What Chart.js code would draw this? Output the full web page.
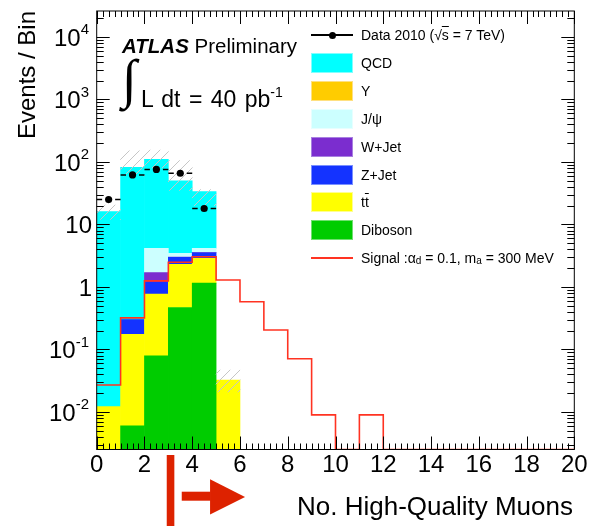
<!DOCTYPE html>
<html>
<head>
<meta charset="UTF-8">
<title>No. High-Quality Muons</title>
<style type="text/css">
  body { margin: 0; background: #fff; }
  #wrap { position: relative; width: 590px; height: 526px; font-family: "Liberation Sans", Arial, Helvetica, sans-serif; color: #000; }
  #c { position: absolute; left: 0; top: 0; }
  .row { position: absolute; left: 311px; height: 20px; display: flex; align-items: center; white-space: nowrap; font-size: 14px; }
  .box { width: 40px; height: 18px; border: 1px solid; margin-right: 8px; }
  .mark { position: relative; width: 42px; height: 20px; margin-right: 8px; }
  .mark .ln { position: absolute; left: 0; right: 0; top: 9px; height: 1.5px; }
  .mark .dot { position: absolute; left: 17.5px; top: 6.5px; width: 7px; height: 7px; border-radius: 50%; background: #000; }
  sub { font-size: 10px; vertical-align: -1px; }
  .ov { text-decoration: overline; }
  #atlas1 { position: absolute; left: 122px; top: 34px; font-size: 20.5px; white-space: nowrap; }
  #integral { position: absolute; left: 122px; top: 52px; font-family: "Liberation Serif", "DejaVu Serif", serif; font-size: 54px; line-height: 54px; }
  #atlas2 { position: absolute; left: 141px; top: 79px; font-size: 23px; line-height: 26px; word-spacing: 2px; white-space: nowrap; }
  #atlas2 sup { font-size: 14px; vertical-align: 10px; }
</style>
<script type="text/javascript" src="https://cdn.jsdelivr.net/npm/chart.js@4.4.1/dist/chart.umd.min.js"></script>
</head>
<body>
<div id="wrap">
  <canvas id="c" width="590" height="526"></canvas>
  <div id="atlas1"><b><i>ATLAS</i></b> Preliminary</div>
  <div id="integral">&#8747;</div>
  <div id="atlas2">L dt = 40 pb<sup>-1</sup></div>
  <div id="legend"></div>
</div>
<script>
// bins of width 1, centres 0.5 .. 5.5
var binCenters = [0.5, 1.5, 2.5, 3.5, 4.5, 5.5];
var diboson = [0, 0.006, 0.079, 0.47, 1.15, 0];
var ttbar   = [0.0122, 0.169, 0.69, 1.83, 1.73, 0.0325];
var zjet    = [0, 0.125, 0.42, 0.68, 0.65, 0];
var wjet    = [0, 0, 0.51, 0.03, 0.03, 0];
var jpsi    = [0, 0, 2.46, 0.45, 0.6, 0];
var upsilon = [0, 0, 0, 0, 0, 0];
var qcd     = [16, 81.7, 105.8, 46.5, 29.3, 0];
var bandLow  = [12, 60, 80, 35, 20, 0.021];
var bandHigh = [20.5, 150, 155, 105, 36, 0.047];

var dataX = [0.5, 1.5, 2.5, 3.5, 4.5];
var dataY = [25, 62, 76, 66, 18];

// signal, one value per bin from 0 to 20
var signal = [0.027, 0.32, 1.25, 2.48, 3.05, 1.29, 0.58, 0.205, 0.071, 0.009, 0, 0.009, 0, 0, 0, 0, 0, 0, 0, 0];

var xTickLabels = ['0', '2', '4', '6', '8', '10', '12', '14', '16', '18', '20'];
var yDecades = [-2, -1, 0, 1, 2, 3, 4];

var Y_MIN = 0.00251, Y_MAX = 26000;
var CUT = 3;

var colors = {
  qcd: '#00ffff', upsilon: '#ffcc00', jpsi: '#ccffff', wjet: '#7b2dcf',
  zjet: '#1433ff', ttbar: '#ffff00', diboson: '#00cc00', signal: '#ff3322'
};

// stacked floating bars, bottom to top
var stack = [
  ['Diboson', diboson, colors.diboson],
  ['ttbar', ttbar, colors.ttbar],
  ['Z+Jet', zjet, colors.zjet],
  ['W+Jet', wjet, colors.wjet],
  ['J/psi', jpsi, colors.jpsi],
  ['Upsilon', upsilon, colors.upsilon],
  ['QCD', qcd, colors.qcd]
];
var cum = binCenters.map(function () { return 0; });
var datasets = [];
stack.forEach(function (s) {
  var pts = [];
  binCenters.forEach(function (cx, i) {
    var v = s[1][i];
    if (v > 0) {
      pts.push({ x: cx, y: [Math.max(cum[i], Y_MIN), cum[i] + v] });
      cum[i] += v;
    }
  });
  datasets.push({ type: 'bar', label: s[0], data: pts, backgroundColor: s[2], borderWidth: 0,
    barPercentage: 1, categoryPercentage: 1, grouped: false, order: 10 });
});

// hatch for uncertainty band
var pc = document.createElement('canvas');
pc.width = 10; pc.height = 10;
var pctx = pc.getContext('2d');
pctx.strokeStyle = '#c6c6c6';
pctx.lineWidth = 1;
pctx.beginPath();
pctx.moveTo(0, 10); pctx.lineTo(10, 0);
pctx.moveTo(-1, 1); pctx.lineTo(1, -1);
pctx.moveTo(9, 11); pctx.lineTo(11, 9);
pctx.stroke();
var hatch = pctx.createPattern(pc, 'repeat');

datasets.push({ type: 'bar', label: 'band',
  data: binCenters.map(function (cx, i) { return { x: cx, y: [bandLow[i], bandHigh[i]] }; }),
  backgroundColor: hatch, borderWidth: 0, barPercentage: 1, categoryPercentage: 1, grouped: false, order: 5 });

var sigPts = signal.map(function (v, i) { return { x: i, y: Math.max(v, Y_MIN) }; });
sigPts.push({ x: signal.length, y: Math.max(signal[signal.length - 1], Y_MIN) });
datasets.push({ type: 'line', label: 'Signal', data: sigPts, stepped: true, borderColor: colors.signal,
  borderWidth: 1.6, pointRadius: 0, fill: false, order: 3 });

datasets.push({ type: 'scatter', label: 'Data 2010',
  data: dataX.map(function (x, i) { return { x: x, y: dataY[i] }; }),
  pointRadius: 3.6, pointBackgroundColor: '#000', pointBorderWidth: 0, order: 1 });

var FONT = '"Liberation Sans", Arial, Helvetica, sans-serif';

var rootAxes = {
  id: 'rootAxes',
  afterDatasetsDraw: function (chart) {
    var ctx = chart.ctx, a = chart.chartArea, x = chart.scales.x, y = chart.scales.y;
    ctx.save();
    // data x error bars, cut around marker
    ctx.strokeStyle = '#000';
    ctx.lineWidth = 1.5;
    ctx.beginPath();
    dataX.forEach(function (cx, i) {
      var py = y.getPixelForValue(dataY[i]);
      var l = x.getPixelForValue(cx - 0.5), r = x.getPixelForValue(cx + 0.5), c = x.getPixelForValue(cx);
      ctx.moveTo(l, py); ctx.lineTo(c - 6.5, py);
      ctx.moveTo(c + 6.5, py); ctx.lineTo(r, py);
    });
    ctx.stroke();

    ctx.lineWidth = 1;
    ctx.strokeRect(a.left, a.top, a.right - a.left, a.bottom - a.top);
    ctx.beginPath();
    for (var k = 0; k <= 80; k++) {
      var px = Math.round(x.getPixelForValue(k * 0.25)) + 0.5;
      var len = k % 8 === 0 ? 13 : 6;
      ctx.moveTo(px, a.bottom); ctx.lineTo(px, a.bottom - len);
      ctx.moveTo(px, a.top); ctx.lineTo(px, a.top + len);
    }
    for (var e = -3; e <= 4; e++) {
      for (var m = 1; m <= 9; m++) {
        var v = m * Math.pow(10, e);
        if (v < Y_MIN || v > Y_MAX) continue;
        var py = Math.round(y.getPixelForValue(v)) + 0.5;
        var ln = m === 1 ? 13 : 7;
        ctx.moveTo(a.left, py); ctx.lineTo(a.left + ln, py);
        ctx.moveTo(a.right, py); ctx.lineTo(a.right - ln, py);
      }
    }
    ctx.stroke();
    ctx.restore();
  },
  afterDraw: function (chart) {
    var ctx = chart.ctx, a = chart.chartArea, x = chart.scales.x, y = chart.scales.y;
    ctx.save();
    ctx.fillStyle = '#000';
    // x tick labels
    ctx.font = '24px ' + FONT;
    ctx.textAlign = 'center';
    ctx.textBaseline = 'middle';
    xTickLabels.forEach(function (t) {
      ctx.fillText(t, x.getPixelForValue(Number(t)), 465);
    });
    // y tick labels with exponents
    yDecades.forEach(function (e) {
      var py = y.getPixelForValue(Math.pow(10, e)) + 2;
      ctx.textBaseline = 'middle';
      if (e === 0 || e === 1) {
        ctx.font = '24px ' + FONT;
        ctx.textAlign = 'right';
        ctx.fillText(e === 0 ? '1' : '10', 92, py);
      } else {
        ctx.font = '15px ' + FONT;
        var sup = String(e);
        var sw = ctx.measureText(sup).width;
        ctx.textAlign = 'left';
        ctx.fillText(sup, 89 - sw, py - 9);
        ctx.font = '24px ' + FONT;
        ctx.textAlign = 'right';
        ctx.fillText('10', 89 - sw, py);
      }
    });
    // axis titles
    ctx.font = '26px ' + FONT;
    ctx.textAlign = 'right';
    ctx.textBaseline = 'middle';
    ctx.fillText('No. High-Quality Muons', 573, 508);
    ctx.save();
    ctx.translate(35, 11);
    ctx.rotate(-Math.PI / 2);
    ctx.font = '24px ' + FONT;
    ctx.textAlign = 'right';
    ctx.textBaseline = 'alphabetic';
    ctx.fillText('Events / Bin', 0, 0);
    ctx.restore();
    // cut arrow
    var cx = x.getPixelForValue(CUT);
    ctx.fillStyle = '#dd2200';
    ctx.fillRect(cx - 1.6, 455, 7.6, 71);
    ctx.fillRect(cx + 13.4, 491.7, 29, 9);
    ctx.beginPath();
    ctx.moveTo(cx + 41.7, 479.3);
    ctx.lineTo(cx + 76.7, 497);
    ctx.lineTo(cx + 41.7, 514.5);
    ctx.closePath();
    ctx.fill();
    ctx.restore();
  }
};

new Chart(document.getElementById('c'), {
  type: 'bar',
  data: { datasets: datasets },
  options: {
    responsive: false,
    animation: false,
    layout: { padding: { top: 11, right: 15.7, left: 0, bottom: 0 } },
    plugins: { legend: { display: false }, tooltip: { enabled: false } },
    scales: {
      x: { type: 'linear', min: 0, max: 20, offset: false, bounds: 'data',
        ticks: { display: false, stepSize: 2 }, grid: { display: false }, border: { display: false },
        afterFit: function (s) { s.height = 76.5; } },
      y: { type: 'logarithmic', min: Y_MIN, max: Y_MAX, bounds: 'data',
        ticks: { display: false }, grid: { display: false }, border: { display: false },
        afterFit: function (s) { s.width = 96.7; } }
    }
  },
  plugins: [rootAxes]
});

// legend
var legendRows = [
  ['data', 'Data 2010 (&#8730;<span class="ov">s</span> = 7 TeV)', '#000'],
  ['box', 'QCD', colors.qcd, '#80ffff'],
  ['box', '&#933;', colors.upsilon, '#ffe080'],
  ['box', 'J/&#968;', colors.jpsi, '#e6ffff'],
  ['box', 'W+Jet', colors.wjet, '#a880e0'],
  ['box', 'Z+Jet', colors.zjet, '#7a90ff'],
  ['box', 't<span class="ov">t</span>', colors.ttbar, '#ffff90'],
  ['box', 'Diboson', colors.diboson, '#70e070'],
  ['line', 'Signal :&#945;<sub>d</sub> = 0.1, m<sub>a</sub> = 300 MeV', colors.signal]
];
var leg = document.getElementById('legend');
legendRows.forEach(function (r, i) {
  var d = document.createElement('div');
  d.className = 'row';
  d.style.top = (35 + i * 27.9 - 10) + 'px';
  var mark;
  if (r[0] === 'box') {
    mark = '<div class="box" style="background:' + r[2] + ';border-color:' + r[3] + '"></div>';
  } else if (r[0] === 'data') {
    mark = '<div class="mark"><div class="ln" style="background:#000"></div><div class="dot"></div></div>';
  } else {
    mark = '<div class="mark"><div class="ln" style="background:' + r[2] + '"></div></div>';
  }
  d.innerHTML = mark + '<span>' + r[1] + '</span>';
  leg.appendChild(d);
});
</script>
</body>
</html>
